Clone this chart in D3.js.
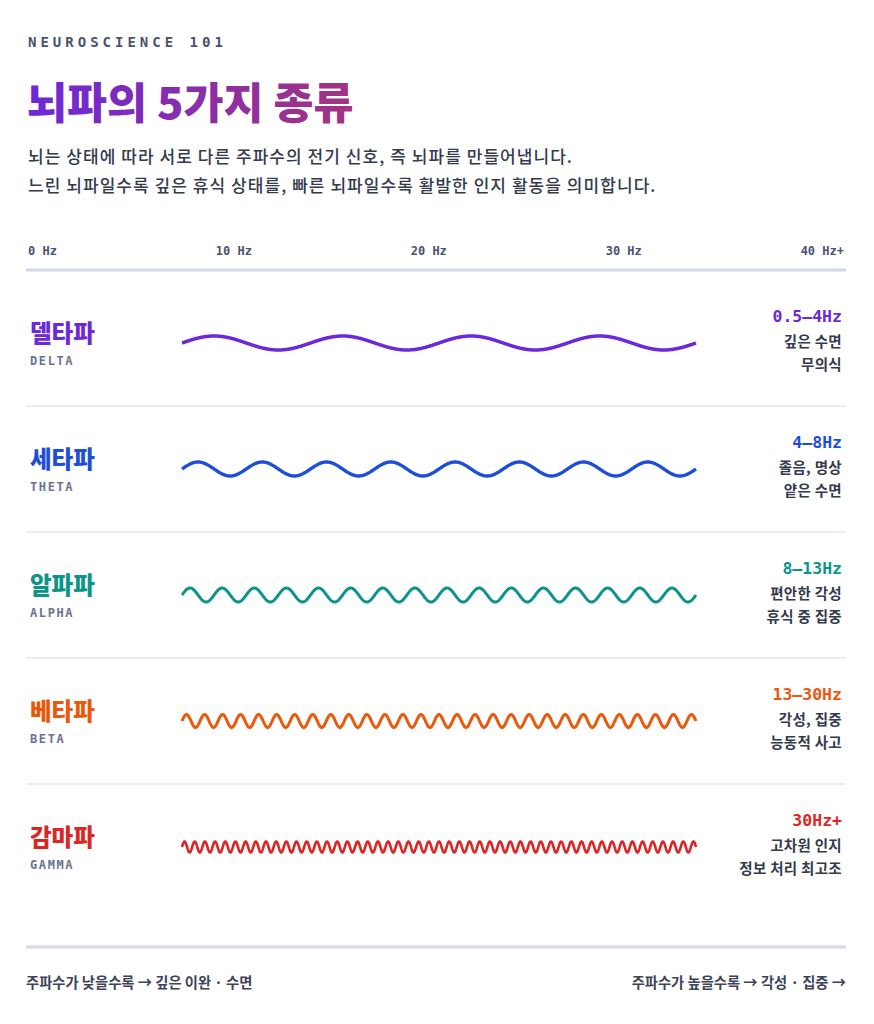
<!DOCTYPE html>
<html>
<head>
<meta charset="utf-8">
<script src="https://cdn.jsdelivr.net/npm/d3@7"></script>
<style>
  html, body { margin: 0; padding: 0; background: #fff; }
  svg { display: block; }
</style>
</head>
<body>
<div id="container"></div>
<script>
/* CONSTANTS AND GLOBALS */
const width = 874,
  height = 1024,
  margin = { left: 28, right: 28 };

const kor = "'Noto Sans CJK KR', 'Noto Sans', sans-serif";
const mono = "'DejaVu Sans Mono', 'Liberation Mono', monospace";

// DATA
const tickLabels = ["0 Hz", "10 Hz", "20 Hz", "30 Hz", "40 Hz+"];
const waveNames = ["델타파", "세타파", "알파파", "베타파", "감마파"];
const waveCodes = ["DELTA", "THETA", "ALPHA", "BETA", "GAMMA"];
const waveRanges = ["0.5–4Hz", "4–8Hz", "8–13Hz", "13–30Hz", "30Hz+"];
const descLine1 = ["깊은 수면", "졸음, 명상", "편안한 각성", "각성, 집중", "고차원 인지"];
const descLine2 = ["무의식", "얕은 수면", "휴식 중 집중", "능동적 사고", "정보 처리 최고조"];
const waveColors = ["#6d28d9", "#1d4ed8", "#0d9488", "#ea580c", "#dc2626"];
const waveCycles = [4, 8, 16, 28.5, 50.5];
const waveAmps = [7, 7, 7, 6.5, 5.5];
const waveStroke = [3.5, 3.4, 3, 3, 2.6];

const svg = d3.select("#container")
  .append("svg")
  .attr("width", width)
  .attr("height", height)
  .style("background-color", "#fff");

// TITLE GRADIENT
const grad = svg.append("defs").append("linearGradient")
  .attr("id", "titleGrad")
  .attr("x1", "0%").attr("x2", "100%")
  .attr("y1", "0%").attr("y2", "0%");
grad.append("stop").attr("offset", "0%").attr("stop-color", "#6d28d9");
grad.append("stop").attr("offset", "100%").attr("stop-color", "#a3347f");

// HEADER
svg.append("text")
  .attr("x", margin.left)
  .attr("y", 47)
  .style("font-family", mono)
  .style("font-weight", "bold")
  .style("font-size", "14px")
  .style("letter-spacing", "4px")
  .style("fill", "#4b5270")
  .text("NEUROSCIENCE 101");

svg.append("text")
  .attr("x", margin.left - 1)
  .attr("y", 119)
  .style("font-family", kor)
  .style("font-weight", "900")
  .style("font-size", "43.5px")
  .style("fill", "url(#titleGrad)")
  .text("뇌파의 5가지 종류");

const subtitle = [
  "뇌는 상태에 따라 서로 다른 주파수의 전기 신호, 즉 뇌파를 만들어냅니다.",
  "느린 뇌파일수록 깊은 휴식 상태를, 빠른 뇌파일수록 활발한 인지 활동을 의미합니다."
];
svg.selectAll("text.sub")
  .data(subtitle)
  .join("text")
  .attr("class", "sub")
  .attr("x", margin.left)
  .attr("y", (d, i) => 163 + i * 29)
  .style("font-family", kor)
  .style("font-weight", "500")
  .style("font-size", "17px")
  .style("letter-spacing", "1.05px")
  .style("fill", "#333a4d")
  .text(d => d);

// FREQUENCY AXIS (labels spread like a space-between row)
const axisY = 270;
const ticks = svg.append("g")
  .selectAll("text")
  .data(tickLabels)
  .join("text")
  .attr("y", axisY - 15)
  .style("font-family", mono)
  .style("font-weight", "bold")
  .style("font-size", "12px")
  .style("fill", "#4b5270")
  .text(d => d);

const tickWidths = ticks.nodes().map(n => n.getComputedTextLength());
const gap = (width - margin.left - 30 - d3.sum(tickWidths)) / (tickLabels.length - 1);
let cursor = margin.left;
ticks.attr("x", (d, i) => {
  const x = cursor;
  cursor += tickWidths[i] + gap;
  return x;
});

svg.append("line")
  .attr("x1", margin.left - 2).attr("x2", width - margin.right)
  .attr("y1", axisY).attr("y2", axisY)
  .attr("stroke", "#d3d8ea")
  .attr("stroke-width", 3);

// ROWS
const rowY = d3.scaleBand()
  .domain(waveNames)
  .range([280, 280 + 126 * waveNames.length]);

const xWave = d3.scaleLinear().domain([0, 1]).range([182, 696]);
const samples = d3.range(0, 1.0001, 1 / 1200);

const rows = svg.selectAll("g.row")
  .data(waveNames)
  .join("g")
  .attr("class", "row")
  .attr("transform", d => `translate(0,${rowY(d) + 63})`);

// separators
rows.filter((d, i) => i < waveNames.length - 1)
  .append("line")
  .attr("x1", margin.left - 2).attr("x2", width - margin.right)
  .attr("y1", 63).attr("y2", 63)
  .attr("stroke", "#e4e7f0")
  .attr("stroke-width", 1.5);

rows.append("text")
  .attr("x", 30)
  .attr("y", -1)
  .style("font-family", kor)
  .style("font-weight", "900")
  .style("font-size", "23.5px")
  .style("fill", (d, i) => waveColors[i])
  .text(d => d);

rows.append("text")
  .attr("x", 30)
  .attr("y", 21.5)
  .style("font-family", mono)
  .style("font-weight", "bold")
  .style("font-size", "12px")
  .style("letter-spacing", "1.6px")
  .style("fill", "#6b7290")
  .text((d, i) => waveCodes[i]);

rows.append("path")
  .attr("fill", "none")
  .attr("stroke", (d, i) => waveColors[i])
  .attr("stroke-width", (d, i) => waveStroke[i])
  .attr("stroke-linejoin", "round")
  .attr("d", (d, i) => d3.line()
    .x(t => xWave(t))
    .y(t => -waveAmps[i] * Math.sin(2 * Math.PI * waveCycles[i] * t))
    (samples));

rows.append("text")
  .attr("x", 842)
  .attr("y", -21)
  .attr("text-anchor", "end")
  .style("font-family", mono)
  .style("font-weight", "bold")
  .style("font-size", "16.5px")
  .style("fill", (d, i) => waveColors[i])
  .text((d, i) => waveRanges[i]);

rows.append("text")
  .attr("x", 842)
  .attr("y", 3.5)
  .attr("text-anchor", "end")
  .style("font-family", kor)
  .style("font-weight", "600")
  .style("font-size", "14.5px")
  .style("letter-spacing", "0.3px")
  .style("fill", "#333a4d")
  .text((d, i) => descLine1[i]);

rows.append("text")
  .attr("x", 842)
  .attr("y", 26.5)
  .attr("text-anchor", "end")
  .style("font-family", kor)
  .style("font-weight", "600")
  .style("font-size", "14.5px")
  .style("letter-spacing", "0.3px")
  .style("fill", "#333a4d")
  .text((d, i) => descLine2[i]);

// FOOTER
svg.append("line")
  .attr("x1", margin.left - 2).attr("x2", width - margin.right)
  .attr("y1", 947).attr("y2", 947)
  .attr("stroke", "#d3d8ea")
  .attr("stroke-width", 3);

svg.append("text")
  .attr("x", margin.left - 2)
  .attr("y", 988)
  .style("font-family", kor)
  .style("font-weight", "600")
  .style("font-size", "14.3px")
  .style("fill", "#3d4457")
  .text("주파수가 낮을수록 → 깊은 이완 · 수면");

svg.append("text")
  .attr("x", width - margin.right)
  .attr("y", 988)
  .attr("text-anchor", "end")
  .style("font-family", kor)
  .style("font-weight", "600")
  .style("font-size", "14.3px")
  .style("fill", "#3d4457")
  .text("주파수가 높을수록 → 각성 · 집중 →");
</script>
</body>
</html>
